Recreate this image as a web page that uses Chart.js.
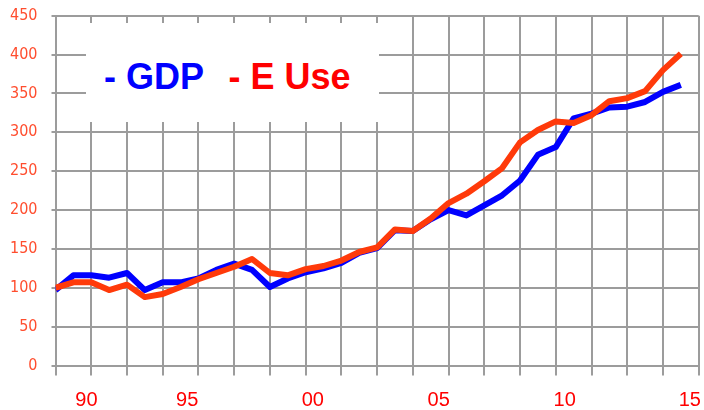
<!DOCTYPE html>
<html>
<head>
<meta charset="utf-8">
<script src="https://cdn.jsdelivr.net/npm/chart.js@4.4.1/dist/chart.umd.min.js"></script>
<style>
  body { margin: 0; background: #fff; }
  #wrap { position: relative; width: 704px; height: 410px; }
  #keyBox {
    position: absolute; left: 86px; top: 23px; width: 293px; height: 99px;
    background: #fff;
    font-family: 'Liberation Sans', Arial, sans-serif; font-weight: bold; font-size: 36px;
    line-height: 36px;
  }
  #keyBox span { position: absolute; top: 36px; white-space: pre; }
  #keyGdp { left: 18px; color: #0000ff; }
  #keyUse { left: 142.5px; color: #ff0000; }
</style>
</head>
<body>
<div id="wrap">
  <canvas id="chart"></canvas>
  <div id="keyBox"><span id="keyGdp">- GDP</span><span id="keyUse">- E Use</span></div>
</div>
<script>
// index values, one per period
const gdp = [97, 116, 116, 113, 119, 97, 107, 107, 112, 123, 131, 123, 101, 112, 120, 125,
             132, 145, 151, 174, 173, 188, 200, 193, 206, 219, 238, 271, 281, 318, 324, 332,
             333, 339, 352, 361];
const energyUse = [100, 107, 107, 97, 104, 88, 92, 101, 111, 119, 127, 137, 119, 116, 124, 128,
                   135, 146, 152, 175, 173, 189, 209, 221, 237, 254, 287, 303, 314, 312, 322, 340,
                   344, 353, 380, 401];
const tickLabels = ['90', '95', '00', '05', '10', '15'];
const tickPositions = [1.73, 7.37, 14.4, 21.45, 28.5, 35.5];

const gridColor = '#9c9c9c';

function isLabelTick(v) {
    return tickPositions.some(p => Math.abs(p - v) < 1e-6);
}

document.addEventListener('DOMContentLoaded', function() {
    const ctx = document.getElementById('chart').getContext('2d');
    new Chart(ctx, {
        type: 'line',
        data: {
            datasets: [{
                label: 'GDP',
                data: gdp.map((v, i) => ({ x: i, y: v })),
                borderColor: '#0000ff',
                borderWidth: 6,
                pointRadius: 0,
                tension: 0,
                borderJoinStyle: 'round',
                order: 1
            }, {
                label: 'E Use',
                data: energyUse.map((v, i) => ({ x: i, y: v })),
                borderColor: '#ff3a0a',
                borderWidth: 6,
                pointRadius: 0,
                tension: 0,
                borderJoinStyle: 'round',
                order: 0
            }]
        },
        options: {
            responsive: true,
            maintainAspectRatio: false,
            animation: false,
            devicePixelRatio: 1,
            layout: { padding: { top: 15.7, right: 5.3, left: 0, bottom: 0 } },
            plugins: { legend: { display: false }, tooltip: { enabled: false } },
            scales: {
                x: {
                    type: 'linear',
                    min: 0,
                    max: 36,
                    border: { display: false },
                    grid: {
                        color: (c) => (c.tick && isLabelTick(c.tick.value)) ? 'rgba(0,0,0,0)' : gridColor,
                        lineWidth: 2,
                        tickLength: 10
                    },
                    afterBuildTicks: function(scale) {
                        const ticks = [];
                        for (let v = 0; v <= 36; v += 2) ticks.push({ value: v });
                        tickPositions.forEach(p => ticks.push({ value: p }));
                        ticks.sort((a, b) => a.value - b.value);
                        scale.ticks = ticks;
                    },
                    afterFit: function(scale) {
                        scale.height = 44.5;
                        scale.paddingLeft = 0;
                        scale.paddingRight = 0;
                    },
                    ticks: {
                        autoSkip: false,
                        maxRotation: 0,
                        padding: 13,
                        color: '#ff0000',
                        font: { family: "'Liberation Sans', Arial, sans-serif", size: 20 },
                        callback: function(value) {
                            const i = tickPositions.findIndex(p => Math.abs(p - value) < 1e-6);
                            return i >= 0 ? tickLabels[i] : '';
                        }
                    }
                },
                y: {
                    min: 0,
                    max: 450,
                    border: { display: false },
                    grid: { color: gridColor, lineWidth: 2, tickLength: 4 },
                    afterFit: function(scale) {
                        scale.width = 55.5;
                        scale.paddingTop = 0;
                        scale.paddingBottom = 0;
                    },
                    ticks: {
                        stepSize: 50,
                        padding: 14,
                        color: '#ff4d2e',
                        font: { family: "'Liberation Sans Narrow', 'Arial Narrow', 'DejaVu Sans Condensed', sans-serif", size: 16 }
                    }
                }
            }
        }
    });
});
</script>
</body>
</html>
